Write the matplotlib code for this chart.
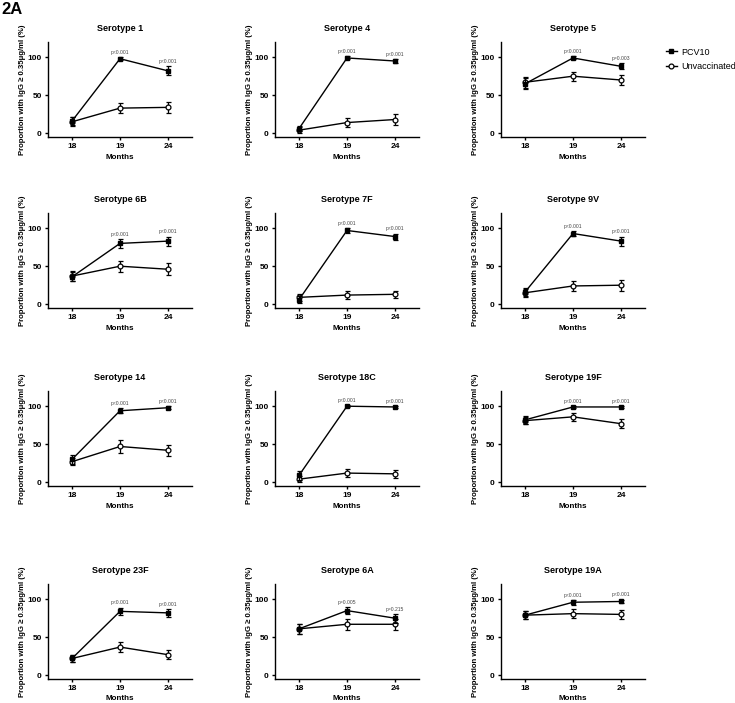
import matplotlib.pyplot as plt
from matplotlib.lines import Line2D

plt.rcParams['font.family'] = ['Liberation Sans', 'DejaVu Sans']

months = ['18', '19', '24']
serotypes = ['1', '4', '5', '6B', '7F', '9V', '14', '18C', '19F', '23F', '6A', '19A']

# proportion (%) and error half-width per serotype, per month
pcv10 = [[16, 98, 82], [6, 99, 95], [65, 99, 88], [36, 80, 83],
         [6, 97, 89], [16, 93, 83], [30, 94, 98], [9, 100, 99],
         [82, 99, 99], [22, 84, 82], [61, 85, 75], [79, 96, 97]]
pcv10_err = [[5, 2, 6], [3, 2, 3], [7, 2, 4], [6, 6, 6],
             [5, 3, 4], [5, 3, 6], [6, 3, 2], [6, 1, 1.5],
             [5, 1.5, 1.5], [5, 5, 5], [7, 5, 6], [5, 3, 2.5]]
unvacc = [[15, 33, 34], [4, 14, 18], [67, 75, 70], [37, 50, 46],
          [9, 12, 13], [15, 24, 25], [27, 47, 42], [4, 12, 11],
          [81, 86, 77], [22, 37, 27], [61, 67, 67], [79, 81, 80]]
unvacc_err = [[6, 7, 7], [4, 6, 7], [7, 6, 7], [7, 7, 8],
              [5, 5, 5], [5, 7, 7], [5, 8, 7], [4, 5, 5],
              [5, 5, 6], [5, 7, 6], [7, 7, 7], [5, 6, 6]]
pvals = [['p<0.001', 'p<0.001'], ['p<0.001', 'p<0.001'], ['p<0.001', 'p=0.003'],
         ['p<0.001', 'p<0.001'], ['p<0.001', 'p<0.001'], ['p<0.001', 'p<0.001'],
         ['p<0.001', 'p<0.001'], ['p<0.001', 'p<0.001'], ['p<0.001', 'p<0.001'],
         ['p<0.001', 'p<0.001'], ['p=0.005', 'p=0.215'], ['p<0.001', 'p<0.001']]

W, H = 735, 703
fig = plt.figure(figsize=(W / 100, H / 100), dpi=100)

col_left = [48, 275, 501]
row_top = [42, 213, 391, 584]
aw, ah = 144, 95

x = [0, 1, 2]
for i, st in enumerate(serotypes):
    r, c = divmod(i, 3)
    ax = fig.add_axes([col_left[c] / W, 1 - (row_top[r] + ah) / H, aw / W, ah / H])

    ax.errorbar(x, unvacc[i], yerr=unvacc_err[i], color='black', lw=1, marker='o',
                ms=3.5, mfc='white', mec='black', mew=0.9, capsize=1.8, elinewidth=0.9,
                capthick=0.9, zorder=3)
    ax.errorbar(x, pcv10[i], yerr=pcv10_err[i], color='black', lw=1, marker='s',
                ms=2.5, mfc='black', mec='black', capsize=1.8, elinewidth=0.9,
                capthick=0.9, zorder=4)

    for j in (1, 2):
        top = max(pcv10[i][j] + pcv10_err[i][j], unvacc[i][j] + unvacc_err[i][j])
        ax.annotate(pvals[i][j - 1], (x[j], top), xytext=(0, 1.5), textcoords='offset points',
                    ha='center', va='bottom', fontsize=3.6, color='#444444')

    ax.set_xlim(-0.5, 2.5)
    ax.set_ylim(-5, 120)
    ax.set_xticks(x)
    ax.set_xticklabels(months)
    ax.set_yticks([0, 50, 100])
    for s in ('top', 'right'):
        ax.spines[s].set_visible(False)
    for s in ('left', 'bottom'):
        ax.spines[s].set_linewidth(1)
    ax.tick_params(length=2.5, width=1, labelsize=6, pad=2)
    for lab in ax.get_xticklabels() + ax.get_yticklabels():
        lab.set_fontweight('bold')
    ax.set_title('Serotype ' + st, fontsize=6.5, fontweight='bold', pad=8)
    ax.set_xlabel('Months', fontsize=5.8, fontweight='bold', labelpad=2 if r == 3 else 3)
    ax.set_ylabel('Proportion with IgG \u2265 0.35\u03bcg/ml (%)', fontsize=5.6,
                  fontweight='bold', labelpad=1)

fig.text(1 / W, 1 - 9 / H, '2A', fontsize=12, fontweight='bold', va='center', ha='left')

handles = [Line2D([], [], color='black', lw=1, marker='s', ms=2.5, mfc='black'),
           Line2D([], [], color='black', lw=1, marker='o', ms=3.5, mfc='white', mew=0.9)]
fig.legend(handles, ['PCV10', 'Unvaccinated'], loc='upper left',
           bbox_to_anchor=(662 / W, 1 - 44 / H), frameon=False, fontsize=6.5,
           handlelength=1.3, handletextpad=0.4, labelspacing=0.6, borderaxespad=0)

fig.savefig('out.png', dpi=100)
